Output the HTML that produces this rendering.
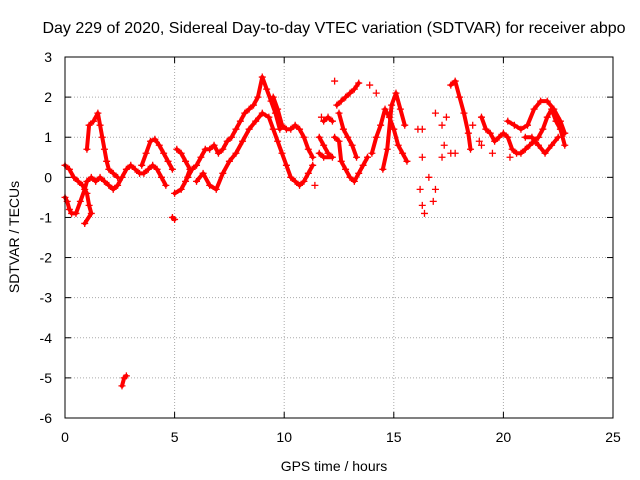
<!DOCTYPE html>
<html><head><meta charset="utf-8"><style>
body{margin:0;background:#fff}
svg{display:block;font-family:"Liberation Sans",sans-serif}
</style></head><body>
<svg id="c" width="640" height="480">
<text x="334" y="33" text-anchor="middle" font-size="16">Day 229 of 2020, Sidereal Day-to-day VTEC variation (SDTVAR) for receiver abpo</text>
<text x="334" y="471" text-anchor="middle" font-size="14">GPS time / hours</text>
<text transform="translate(19,237) rotate(-90)" text-anchor="middle" font-size="14">SDTVAR / TECUs</text>
<g id="grid"></g><g id="ticks"></g><g id="marks"></g>
<rect x="65" y="57" width="548" height="361" fill="none" stroke="#000"/>
</svg>
<script>
const xTicks=[0,5,10,15,20,25];
const yTicks=[3,2,1,0,-1,-2,-3,-4,-5,-6];
const s1=[[0,-0.5],[0.1,-0.6],[0.2,-0.8],[0.3,-0.9],[0.5,-0.9],[0.7,-0.6],[0.9,-0.3],[1.0,-0.1],[1.2,0],[1.4,-0.1],[1.6,0],[1.8,-0.1],[2,-0.2],[2.2,-0.3],[2.4,-0.2],[2.6,0],[2.8,0.2],[3,0.3],[3.2,0.2],[3.4,0.1],[3.6,0.1],[3.8,0.2],[4,0.3],[4.2,0.2],[4.4,0],[4.6,-0.2]];
const s2=[[0,0.3],[0.2,0.2],[0.4,0],[0.6,-0.1],[0.8,-0.2],[1,-0.4],[1.1,-0.7],[1.2,-0.9],[0.9,-1.15]];
const s3=[[1,0.7],[1.1,1.3],[1.3,1.4],[1.5,1.6],[1.6,1.3],[1.7,1.0],[1.8,0.7],[1.9,0.4],[2.0,0.2],[2.2,0.1],[2.4,0.0]];
const s4=[[2.6,-5.2],[2.7,-5.0],[2.8,-4.95]];
const s5=[[3.5,0.3],[3.7,0.6],[3.9,0.9],[4.1,0.95],[4.3,0.8],[4.5,0.6],[4.7,0.4],[4.9,0.2]];
const s6=[[4.9,-1.0],[5.0,-1.05]];
const s7=[[5.1,0.7],[5.3,0.6],[5.5,0.4],[5.7,0.2],[5.5,-0.1],[5.3,-0.3],[5.0,-0.4]];
const s8=[[5.6,0],[5.8,0.2],[6,0.3],[6.2,0.5],[6.4,0.7],[6.6,0.7],[6.8,0.8],[7,0.6],[7.2,0.7],[7.4,0.9],[7.6,1.0],[7.8,1.2],[8,1.4],[8.2,1.6],[8.4,1.7],[8.6,1.8],[8.8,2.0],[9,2.5],[9.2,2.2],[9.4,1.9],[9.6,1.6],[9.8,1.2]];
const s9=[[6,-0.1],[6.3,0.1],[6.6,-0.2],[6.9,-0.3],[7.2,0.1],[7.5,0.4],[7.8,0.6],[8.1,0.9],[8.4,1.2],[8.7,1.4],[9,1.6],[9.3,1.5],[9.5,1.2],[9.7,0.9],[9.9,0.6],[10.1,0.3],[10.3,0.0],[10.5,-0.1],[10.7,-0.2],[10.9,-0.1],[11.1,0.1],[11.3,0.3]];
const s10=[[9.5,2.0],[9.7,1.7],[9.9,1.3],[10.1,1.2],[10.3,1.2],[10.5,1.3],[10.7,1.2],[10.9,1.0],[11.1,0.7],[11.3,0.5]];
const s11=[[11.6,1.0],[11.8,0.8],[12,0.6],[12.2,0.5],[11.8,0.5],[11.6,0.6]];
const s12=[[11.8,1.4],[12,1.5],[12.2,1.4]];
const s13=[[12.3,1.0],[12.5,0.9],[12.6,0.4],[12.8,0.2],[13,0],[13.2,-0.1],[13.4,0.1],[13.6,0.3],[13.8,0.5]];
const s14=[[12.4,1.8],[12.6,1.9],[12.8,2.0],[13,2.1],[13.2,2.2],[13.4,2.35]];
const s15=[[12.5,1.6],[12.7,1.2],[12.9,1.0],[13.1,0.8],[13.3,0.5]];
const s16=[[14,0.6],[14.2,1.0],[14.4,1.3],[14.6,1.7],[14.8,1.5],[15,1.2],[15.2,0.8],[15.4,0.6],[15.6,0.4]];
const s17=[[14.5,0.2],[14.7,0.7],[14.9,1.8],[15.1,2.1],[15.3,1.7],[15.5,1.3]];
const s18=[[17.6,2.3],[17.8,2.4],[18,2.0],[18.2,1.6],[18.4,1.1],[18.5,0.7]];
const s19=[[19,1.5],[19.2,1.2],[19.4,1.1],[19.6,0.9],[19.8,1.0],[20,1.1],[20.2,1.0],[20.4,0.7],[20.6,0.6],[20.8,0.6],[21,0.7],[21.2,0.8],[21.4,0.9],[21.6,1.0],[21.8,1.2],[22,1.5],[22.2,1.7],[22.4,1.4],[22.6,1.2],[22.8,0.8]];
const s20=[[20.2,1.4],[20.5,1.3],[20.8,1.2],[21.1,1.3],[21.4,1.7],[21.7,1.9],[22,1.9],[22.3,1.7],[22.6,1.4],[22.8,1.1]];
const s21=[[21,1.0],[21.3,1.0],[21.6,0.8],[21.9,0.6],[22.2,0.8],[22.5,1.0]];
const scatter=[[11.4,-0.2],[12.3,2.4],[16.1,1.2],[16.3,1.2],[16.3,0.5],[16.2,-0.3],[16.3,-0.7],[16.4,-0.9],[16.6,0.0],[16.8,-0.6],[16.9,-0.3],[16.9,1.6],[17.2,0.5],[17.3,0.8],[17.2,1.3],[17.4,1.5],[17.6,0.6],[17.8,0.6],[18.6,1.3],[19.5,0.6],[20.3,0.5],[19,0.8],[14.2,2.1],[13.9,2.3],[11.7,1.5],[18.9,0.9]];
const series=[s1,s2,s3,s4,s5,s6,s7,s8,s9,s10,s11,s12,s13,s14,s15,s16,s17,s18,s19,s20,s21];
const X=v=>65+v*548/25, Y=v=>57+(3-v)*361/9;
const NS="http://www.w3.org/2000/svg";
const grid=document.getElementById('grid'),ticks=document.getElementById('ticks'),marks=document.getElementById('marks');
function mk(tag,attrs,parent){const e=document.createElementNS(NS,tag);for(const k in attrs)e.setAttribute(k,attrs[k]);parent.appendChild(e);return e;}
xTicks.forEach(t=>{const x=X(t);
 if(t>0&&t<25){const g=mk('line',{x1:x,x2:x,y1:57,y2:418,stroke:'#aaa','stroke-dasharray':'1,2'},grid);}
 mk('line',{x1:x,x2:x,y1:418,y2:412,stroke:'#000'},ticks);mk('line',{x1:x,x2:x,y1:57,y2:63,stroke:'#000'},ticks);
 const l=mk('text',{x:x,y:442,'text-anchor':'middle','font-size':14},ticks);l.textContent=t;
 
 });
yTicks.forEach(t=>{const y=Y(t);
 if(t<3&&t>-6){const g=mk('line',{x1:65,x2:613,y1:y,y2:y,stroke:'#aaa','stroke-dasharray':'1,2'},grid);}
 mk('line',{x1:65,x2:71,y1:y,y2:y,stroke:'#000'},ticks);mk('line',{x1:607,x2:613,y1:y,y2:y,stroke:'#000'},ticks);
 const l=mk('text',{x:52,y:y+5,'text-anchor':'end','font-size':14},ticks);l.textContent=t;
 
 });
function plus(p){const x=X(p[0]),y=Y(p[1]);
 const e=mk('path',{d:`M${x-3.5},${y}H${x+3.5}M${x},${y-3.5}V${y+3.5}`,stroke:'#f00','stroke-width':1.3,fill:'none'},marks);
 
 }
series.forEach(s=>{
 const pl=mk('polyline',{points:s.map(p=>X(p[0])+','+Y(p[1])).join(' '),stroke:'#f00','stroke-width':4,fill:'none','stroke-linejoin':'round','stroke-linecap':'round'},marks);
 
 
 s.forEach(plus);});
scatter.forEach(plus);
</script>
</body></html>
